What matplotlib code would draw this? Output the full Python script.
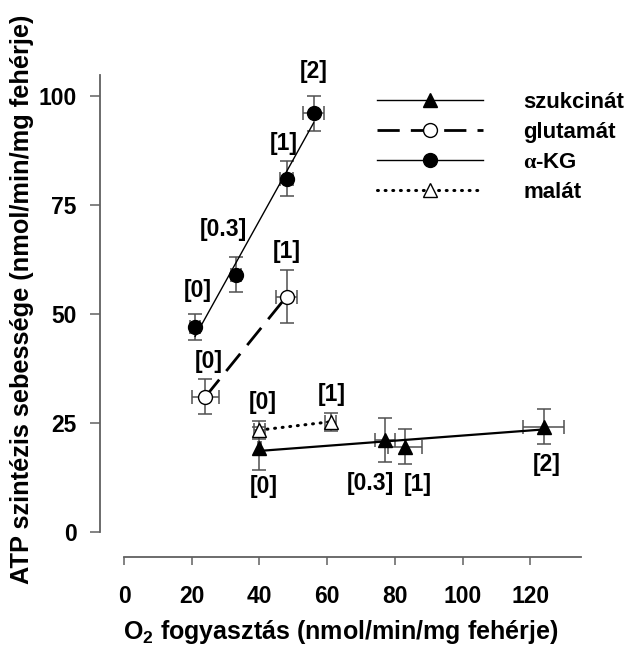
import matplotlib
matplotlib.use('Agg')
import matplotlib.pyplot as plt
import numpy as np

plt.rcParams['font.family'] = ['Liberation Sans', 'DejaVu Sans']
plt.rcParams['font.weight'] = 'bold'
plt.rcParams['mathtext.fontset'] = 'custom'
plt.rcParams['mathtext.rm'] = 'Liberation Serif'
plt.rcParams['mathtext.bf'] = 'Liberation Sans:bold'

# data
szuk_x = [40, 77, 83, 124]
szuk_y = [19.2, 21.1, 19.6, 24.2]
szuk_xerr = [0.5, 3, 5, 6]
szuk_yerr = [5, 5, 4, 4]
szuk_lab = ['[0]', '[0.3]', '[1]', '[2]']

glut_x = [24, 48]
glut_y = [31, 54]
glut_xerr = [4, 3]
glut_yerr = [4, 6]
glut_lab = ['[0]', '[1]']

akg_x = [21, 33, 48, 56]
akg_y = [47, 59, 81, 96]
akg_xerr = [1.5, 1.5, 2, 3]
akg_yerr = [3, 4, 4, 4]
akg_lab = ['[0]', '[0.3]', '[1]', '[2]']

mal_x = [40, 61]
mal_y = [23.4, 25.3]
mal_xerr = [1.5, 1.5]
mal_yerr = [2, 2]
mal_lab = ['[0]', '[1]']

xticks = [0, 20, 40, 60, 80, 100, 120]
yticks = [0, 25, 50, 75, 100]

# label offsets in pixels (dx, dy)
szuk_off = [(4, -38), (-14, -43), (13, -38), (3, -38)]
glut_off = [(3, 35), (0, 45)]
akg_off = [(3, 37), (-12, 45), (-3, 35), (0, 42)]
mal_off = [(3, 28), (1, 27)]

fig = plt.figure(figsize=(6.33, 6.53), dpi=100)
ax = fig.add_axes([100 / 633, 1 - 557 / 653, 481 / 633, 482 / 653])
ax.set_xlim(-7.1, 135)
ax.set_ylim(-5.7, 104.8)

ecol = '#505050'
ekw = dict(ecolor=ecol, elinewidth=1.1, capsize=5, capthick=1.1, ls='none', zorder=2)

ax.errorbar(szuk_x, szuk_y, xerr=szuk_xerr, yerr=szuk_yerr, **ekw)
ax.errorbar(glut_x, glut_y, xerr=glut_xerr, yerr=glut_yerr, **ekw)
ax.errorbar(akg_x, akg_y, xerr=akg_xerr, yerr=akg_yerr, **ekw)
ax.errorbar(mal_x, mal_y, xerr=mal_xerr, yerr=mal_yerr, **ekw)

# regression lines
p = np.polyfit(szuk_x, szuk_y, 1)
xs = np.array([min(szuk_x), max(szuk_x)])
ax.plot(xs, np.polyval(p, xs), color='black', lw=1.6, zorder=3)
p = np.polyfit(akg_x, akg_y, 1)
xs = np.array([min(akg_x), max(akg_x)])
ax.plot(xs, np.polyval(p, xs), color='black', lw=1.0, zorder=3)
ax.plot(glut_x, glut_y, color='black', lw=2.0, dashes=(8, 4), zorder=3)
ax.plot(mal_x, mal_y, color='black', lw=2.2, dashes=(0.3, 2.2),
        dash_capstyle='round', zorder=3)

ax.plot(szuk_x, szuk_y, ls='none', marker='^', ms=10, mfc='black', mec='black', zorder=4)
ax.plot(glut_x, glut_y, ls='none', marker='o', ms=10, mfc='white', mec='black', mew=1, zorder=4)
ax.plot(akg_x, akg_y, ls='none', marker='o', ms=10, mfc='black', mec='black', zorder=4)
ax.plot(mal_x, mal_y, ls='none', marker='^', ms=10, mfc='white', mec='black', mew=1, zorder=4)

for xs_, ys_, labs, offs in [(szuk_x, szuk_y, szuk_lab, szuk_off),
                             (glut_x, glut_y, glut_lab, glut_off),
                             (akg_x, akg_y, akg_lab, akg_off),
                             (mal_x, mal_y, mal_lab, mal_off)]:
    for x, y, t, o in zip(xs_, ys_, labs, offs):
        ax.annotate(t, (x, y), xytext=o, textcoords='offset pixels',
                    ha='center', va='center', fontsize=16.5, fontweight='bold',
                    annotation_clip=False)

# legend proxies
h1, = ax.plot([], [], color='black', lw=1.0, marker='^', ms=10, mfc='black')
h2, = ax.plot([], [], color='black', lw=2.0, dashes=(8, 4), marker='o', ms=10,
              mfc='white', mec='black', mew=1)
h3, = ax.plot([], [], color='black', lw=1.0, marker='o', ms=10, mfc='black')
h4, = ax.plot([], [], color='black', lw=2.2, dashes=(0.3, 2.2), dash_capstyle='round',
              marker='^', ms=10, mfc='white', mec='black', mew=1)
leg = ax.legend([h1, h2, h3, h4],
                ['szukcinát', 'glutamát', r'$\mathrm{\alpha}$-KG', 'malát'],
                loc='upper left', bbox_to_anchor=(0.575, 0.965), frameon=False,
                fontsize=16, handlelength=4.8, handletextpad=1.8, labelspacing=0.4,
                borderpad=0, borderaxespad=0, numpoints=1)
for t in leg.get_texts():
    t.set_fontweight('bold')

for s in ['top', 'right']:
    ax.spines[s].set_visible(False)
ax.spines['left'].set_bounds(0, 104.8)
ax.spines['bottom'].set_bounds(0, 135)
for s in ['left', 'bottom']:
    ax.spines[s].set_color('#606060')
    ax.spines[s].set_linewidth(1.3)
ax.set_xticks(xticks)
ax.set_yticks(yticks)
ax.tick_params(axis='y', direction='out', length=7, width=1.1, color='#606060',
               labelsize=16.5, pad=10)
ax.tick_params(axis='x', direction='out', length=6, width=1.1, color='#606060',
               labelsize=16.5, pad=14)
for lbl in ax.get_xticklabels() + ax.get_yticklabels():
    lbl.set_fontweight('bold')

ax.set_xlabel(r'O$_\mathbf{2}$ fogyasztás (nmol/min/mg fehérje)', fontsize=18,
              fontweight='bold', labelpad=7)
ax.set_ylabel('ATP szintézis sebessége (nmol/min/mg fehérje)', fontsize=18.3,
              fontweight='bold')
ax.yaxis.set_label_coords(-0.137, 0.535)

fig.savefig('out.png', dpi=100)
